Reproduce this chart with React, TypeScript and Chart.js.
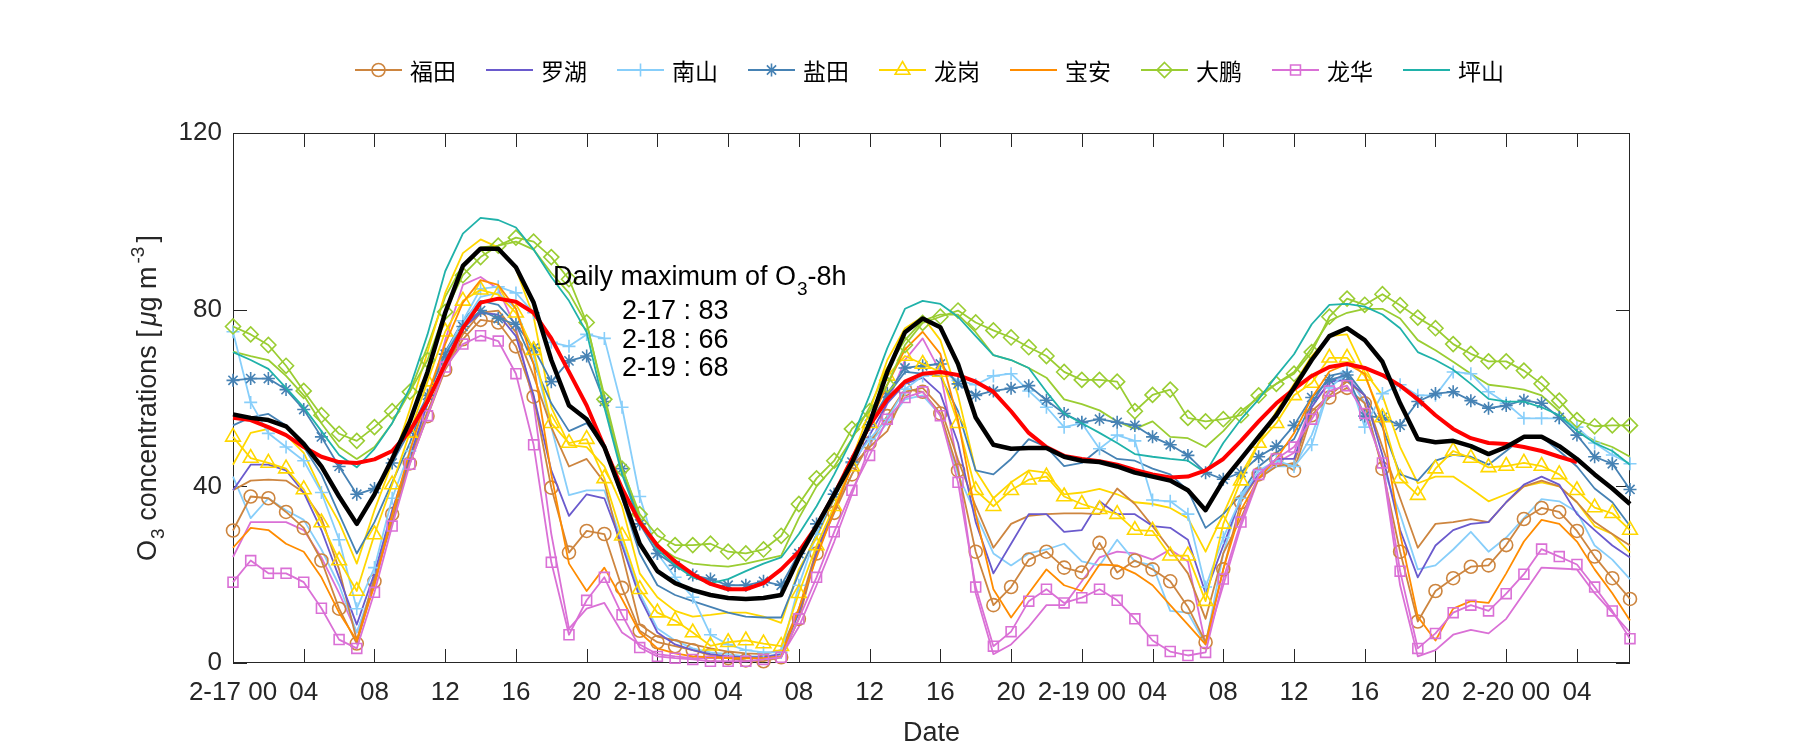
import React, { useEffect, useRef } from "react";
import { Chart, registerables } from "chart.js";

Chart.register(...registerables);

// ---------------- data ----------------
const hours: number[] = Array.from({ length: 80 }, (_, i) => i);
const tickHours = [0, 4, 8, 12, 16, 20, 24, 28, 32, 36, 40, 44, 48, 52, 56, 60, 64, 68, 72, 76];
const tickLabels = ["2-17 00", "04", "08", "12", "16", "20", "2-18 00", "04", "08", "12", "16", "20", "2-19 00", "04", "08", "12", "16", "20", "2-20 00", "04"];
const yTicks = [0, 40, 80, 120];

const stationNames = ["福田", "罗湖", "南山", "盐田", "龙岗", "宝安", "大鹏", "龙华", "坪山"];
const stationColors = ["#CD853F", "#6A5ACD", "#87CEFA", "#4682B4", "#FFD700", "#FF8C00", "#9ACD32", "#DA70D6", "#20B2AA"];
const stationMarkers = ["circle", "none", "cross", "star", "triangle", "none", "rectRot", "rect", "none"];

const futian = [30, 37.7, 37.3, 34.2, 30.6, 23.2, 12.3, 4.4, 18.5, 33.7, 45.2, 55.9, 66.4, 73.3, 77.7, 77.1, 71.7, 60.3, 39.7, 25.0,
  29.9, 29.2, 17, 7.3, 4.7, 3.8, 2.9, 1.8, 1.1, 0.6, 0.4, 1.3, 10, 24.8, 34, 42.7, 49.8, 55.9, 62, 61.4,
  56.5, 43.6, 25.2, 13.1, 17.2, 23.4, 25.2, 21.6, 20.5, 27.2, 20.5, 23.2, 21.2, 18.5, 12.7, 4.7, 21.2, 36.4, 42.7, 46.1,
  43.6, 56.1, 60.1, 62.3, 58.8, 44, 25.2, 9.4, 16.3, 19.2, 21.8, 22.1, 26.7, 32.6, 35.1, 34.2, 29.9, 24.1, 19.2, 14.5];
const luohu = [39.1, 44.9, 44.9, 43.6, 38.6, 30.1, 19.4, 8.7, 20.3, 34.6, 46.7, 58.8, 68.6, 75.8, 79.3, 78.9, 74, 60.6, 43.6, 33.3,
  38.2, 37.3, 26.6, 14.9, 6.9, 4.2, 2.9, 2, 1.5, 1.3, 1.3, 2, 11.4, 24.8, 35.5, 44.5, 51.6, 58.8, 63.2, 64.6,
  61, 49.8, 31.9, 20.3, 27, 33.7, 33.7, 29.7, 30.1, 36.6, 33.7, 33.7, 31, 30.6, 27.9, 15.8, 26.6, 37.3, 42.7, 46.2,
  46.2, 57.9, 63.7, 64.1, 60.6, 47.1, 30.1, 19.4, 26.6, 30.1, 31.5, 31.9, 36.4, 40.4, 42.2, 40.4, 33.7, 30.1, 26.6, 23.9];
const nanshan = [75, 59, 52, 48.9, 45.8, 38.6, 27.9, 12.3, 21.6, 37.3, 48, 60.6, 69.9, 77.5, 84.7, 85.2, 83.8, 79.3, 72.6, 71.7,
  74.4, 73.5, 57.9, 37.7, 24.8, 19.4, 14.9, 6.4, 4.2, 2.9, 2.4, 2.4, 17.6, 29.2, 38.2, 45.3, 50.7, 55.2, 62, 65,
  66, 64, 63, 65, 65.5, 61.6, 57.9, 53.4, 54.3, 48.5, 51.6, 50.3, 36.9, 36.6, 33.7, 17.2, 28.4, 37.3, 43.6, 45.8,
  44.5, 49.4, 62.3, 65.9, 53.4, 61, 63, 60.6, 60.6, 65.9, 65.5, 61.4, 58.8, 55.4, 55.4, 55.4, 53.4, 49.8, 47.1, 45.1];
const yantian = [64, 64.4, 64.4, 61.9, 57.4, 51.2, 44.5, 38.2, 39.5, 45.3, 52.5, 60.6, 69.9, 76.2, 79.8, 78, 76.7, 71.3, 63.7, 68.4,
  69.5, 59.2, 44, 31.5, 24.8, 22.1, 19.9, 19, 17.6, 17.6, 18.5, 17.6, 24.8, 31.5, 38.2, 45.5, 54, 61, 66.8, 67.3,
  67.7, 63.2, 60.6, 61.6, 62.2, 62.8, 59.5, 56.5, 54.5, 55.2, 54.5, 53.8, 51.2, 49.4, 47, 43.1, 41.6, 43.1, 46.7, 49.1,
  53.8, 60.1, 64.1, 65.2, 55.9, 55.6, 53.8, 59.2, 61, 61.4, 59.4, 57.7, 58.3, 59.5, 58.8, 55.6, 51.6, 46.7, 45.1, 39.3];
const longgang = [51.2, 46.4, 45.3, 44, 39.3, 31.8, 23.2, 16.3, 29.1, 40.4, 52.1, 63.7, 75, 82, 84.5, 83.4, 79.3, 70.8, 54.3, 49.8,
  50.7, 41.8, 28.8, 16.7, 11.4, 9.6, 6.9, 3.9, 4.7, 5.1, 4.4, 3.8, 15.8, 26.6, 35.5, 44.5, 54.3, 65, 69.5, 67.7,
  65.9, 54.3, 39.1, 35.5, 39.1, 41.5, 42.2, 37.7, 36, 34.8, 33.7, 30.1, 29.9, 24.3, 24.3, 14, 31.5, 41.3, 49.8, 54.3,
  60.6, 63.4, 69.1, 69.1, 65, 55.6, 41.8, 38, 44, 48, 46.4, 44.3, 44.6, 45.3, 44.6, 42.7, 39.1, 35.2, 33.9, 30.1];
const baoan = [26.1, 30.6, 30.1, 27, 25.2, 19.4, 11.4, 5.1, 17.6, 33.7, 48, 60.6, 72.2, 81.6, 86.7, 85.6, 80.2, 67.7, 42.7, 22.5,
  16.3, 21.6, 14.5, 6.9, 3.3, 2.2, 1.5, 1.3, 1.1, 1.1, 1.1, 1.5, 12.3, 23.9, 34.6, 44.5, 54.3, 63, 71, 75,
  70, 55, 33.7, 16.7, 10.3, 15.8, 21.2, 17.6, 16.3, 22.3, 22.1, 20.3, 17.6, 13.1, 8.7, 4.2, 21.2, 34.6, 41.8, 46.2,
  52, 60, 66, 67.7, 65.5, 54.3, 29.2, 10.5, 5.1, 12.3, 14, 13.6, 20.3, 27.5, 32.4, 31.5, 27.5, 21.2, 15.8, 9.6];
const dapeng = [76.2, 74.4, 72, 67.3, 61.6, 56.1, 51.9, 50.3, 53.4, 57, 61.4, 68.6, 79.5, 87.8, 91.9, 94.5, 96.3, 95.4, 91.9, 86.9,
  77.1, 59.7, 44, 33.7, 28.8, 26.7, 26.7, 27, 25.2, 24.8, 25.7, 28.8, 36, 41.8, 45.8, 53, 57, 63, 72, 77,
  78.4, 79.8, 77.1, 75.3, 73.7, 71.5, 69.5, 65.9, 64.1, 64.1, 63.7, 57, 60.7, 61.9, 55.5, 54.7, 55.2, 56.1, 60.6, 63.2,
  65.5, 70.4, 78.4, 82.5, 81.1, 83.5, 81, 78.2, 75.8, 72.2, 70, 68.3, 68.3, 66.2, 63.2, 59.4, 55, 53.6, 53.8, 53.8];
const longhua = [18.3, 23.2, 20.3, 20.3, 18.3, 12.4, 5.3, 3.3, 16, 31, 45, 56, 67, 72.2, 74.1, 72.9, 65.5, 49.4, 22.8, 6.4,
  14.2, 19.4, 10.9, 3.5, 1.5, 1.1, 0.8, 0.4, 0.4, 0.4, 0.8, 1.3, 10, 19.4, 29.7, 39.1, 47, 55.2, 60.1, 61.4,
  56, 40.9, 17.2, 3.8, 7.1, 14, 16.7, 13.6, 14.8, 16.7, 14.2, 10, 5.1, 2.6, 1.7, 2.4, 19, 31.9, 42.7, 46.2,
  48.9, 55.2, 61.6, 62.8, 56.5, 45.3, 20.8, 3.3, 6.7, 11.4, 13.1, 11.8, 15.7, 20.1, 25.8, 24.1, 22.3, 17.2, 11.8, 5.5];
const pingshan = [70.4, 68.6, 66.6, 62.3, 57.9, 52.5, 47.1, 44.3, 48.5, 54.3, 62.3, 74.4, 88.7, 97.2, 100.8, 100.3, 98.6, 93.6, 87.4, 82,
  74.9, 57.9, 42.7, 31.9, 25.7, 22.1, 19.4, 18.1, 19, 20.8, 22.5, 23.9, 29.2, 35.5, 42.7, 50.7, 60.6, 71.3, 80.2, 82,
  81.3, 78.4, 74, 69.7, 68.6, 66.8, 61.4, 56.5, 54.3, 52.1, 49.8, 47.3, 46.7, 46.2, 45.8, 43.1, 49.8, 55.2, 59.7, 65,
  69.9, 76.7, 81.1, 81.3, 80.7, 78.9, 75.8, 70.4, 68.6, 66.4, 63.2, 59.8, 59.2, 59.2, 57.9, 56.1, 52.5, 49.8, 48, 44.9];

// second set of lines (no markers, not in legend)
const futianB = [39.1, 41.3, 41.5, 41.3, 38.6, 32.8, 21.2, 5.1, 19.4, 31.9, 46.2, 57, 66.8, 74.4, 79.3, 79.8, 74.9, 65, 53.4, 44.5,
  46.2, 40.9, 24.8, 8.7, 6, 5.1, 4.2, 3.3, 2.6, 2.2, 2, 2.9, 12.3, 25.7, 34.6, 44.5, 48.9, 52.5, 61.4, 62.3,
  57.9, 46, 35.5, 26.1, 31.5, 33.3, 33.7, 33.9, 33.9, 33.7, 39.5, 36, 31, 25.7, 20.3, 10, 24.8, 32.8, 41.8, 44.5,
  45.3, 57, 60.6, 63.7, 60.6, 48.9, 37.3, 26.1, 31.5, 31.9, 32.6, 31.9, 36.4, 40, 41.3, 40, 36.4, 31.9, 29.2, 26.6];
const nanshanB = [42.2, 32.8, 37.3, 34.6, 32.4, 25.7, 17.6, 6.9, 18.5, 33.7, 46.7, 58.8, 67.7, 76.7, 82.9, 83.8, 80.2, 69.5, 53.4, 38,
  39.1, 39.1, 27.5, 15.8, 7.8, 5.1, 3.3, 2.4, 2, 1.5, 1.5, 2, 11.4, 24.8, 34.6, 42.7, 49.8, 54.3, 59.7, 60.6,
  56.1, 42.7, 33.7, 24.8, 22.1, 24.8, 25.7, 27, 23, 22.1, 27.9, 23, 22.1, 11.8, 11.4, 4.2, 24.8, 38.2, 42.7, 44.5,
  44.5, 51.6, 62.3, 65.5, 58.8, 44.5, 33.7, 21.2, 22.1, 25.7, 29.7, 25.2, 28.4, 32.8, 37.1, 36.6, 34.2, 26.6, 23.4, 19];
const yantianB = [53.8, 55.6, 56.4, 53.8, 48.9, 42.7, 33.7, 24.8, 31.9, 40.9, 49.8, 60.6, 70.4, 77.5, 82, 81.1, 76.7, 67.7, 58.8, 52.5,
  54.3, 48.9, 37.3, 24.8, 17.6, 15.4, 14, 12.7, 11.4, 10.5, 10.3, 10.3, 20.3, 29.2, 37.3, 45.3, 53.4, 60.6, 65.9, 65.5,
  65, 57, 43.6, 42.7, 46.2, 50.7, 48.9, 44.6, 45.3, 48.5, 46.2, 45.8, 44, 42.7, 39.1, 30.6, 33.7, 38.2, 44.5, 47.6,
  50.7, 58.8, 65, 65.9, 60.6, 53.4, 42.7, 41.3, 45.8, 47.1, 46.7, 44.9, 48, 51.2, 51.2, 48, 44.5, 39.5, 36.4, 31];
const longgangB = [44.9, 52.1, 53, 51.6, 47.6, 39.1, 31.9, 22.5, 34.6, 45.3, 57.4, 70.4, 83.8, 92.8, 95.9, 94.1, 89.2, 78.4, 57.9, 49.4,
  48.9, 44.5, 35.5, 20.3, 14.9, 11.8, 10.5, 10.9, 11.4, 11.4, 10.5, 9.1, 21.2, 28.4, 37.3, 46.2, 57, 68.6, 75.8, 78.4,
  73.1, 60.6, 43.6, 37.3, 40.9, 43.6, 43.1, 38.2, 38.6, 39.4, 38.2, 36.4, 36, 35.1, 32.8, 25.2, 33.7, 42.7, 49.8, 57,
  63.2, 69.5, 74, 74.4, 65.9, 60.6, 48.9, 40.7, 42.2, 42.2, 39.5, 36.6, 38.2, 40, 40.9, 40, 36.4, 31, 29.2, 25];
const dapengB = [70.5, 69.5, 68.6, 65, 60.6, 54.3, 48.9, 46.2, 48.9, 54.3, 61.4, 71.7, 82.9, 90.1, 94.1, 94.5, 95.4, 93.6, 88.3, 83.8,
  76.7, 60.6, 44.5, 32.8, 26.6, 23.9, 22.5, 22.1, 21.8, 22.5, 23.4, 24.3, 32.8, 40, 44.5, 50.7, 57.9, 66.8, 73.1, 77.5,
  78.9, 78.9, 74.9, 69.7, 68.6, 66.8, 64.6, 59.7, 58.6, 57.2, 54.7, 53, 54.7, 51.2, 50.9, 48.9, 52.5, 57, 60.1, 63.2,
  65.9, 71.3, 77.5, 79.3, 80.2, 80.2, 78, 73.1, 70.8, 68.2, 65.5, 63, 62.5, 61.9, 60.6, 57, 52.5, 50.3, 48.9, 46.7];
const longhuaB = [24, 31.9, 31.9, 31.9, 30.1, 23.9, 15.8, 6.9, 17.6, 32.8, 46.2, 58.8, 73.1, 85.6, 87.4, 84.7, 75.8, 58.8, 29.2, 7.8,
  12.3, 13.6, 6.9, 4.2, 2, 1.5, 1.1, 1.1, 1.1, 1.1, 1.1, 1.5, 8.2, 17.6, 27.5, 38.2, 48.9, 58.8, 68.6, 73.5,
  65.9, 44.5, 15.8, 2, 4.2, 8.2, 13.1, 13.1, 18.5, 23.9, 25.2, 24.8, 23.4, 25.7, 23, 4.2, 17.6, 31, 41.8, 45.3,
  47.6, 58.8, 63.2, 65.9, 58.8, 44.5, 17.6, 1.5, 2.9, 6.4, 7.5, 6.7, 10, 15.8, 21.6, 21.4, 21.2, 15.8, 11.4, 6.9];

const cityMean = [56.3, 55.5, 55, 53.6, 49.6, 44.5, 37.7, 31.5, 38.2, 46.2, 54.7, 65.9, 79.3, 89.9, 93.8, 93.8, 89.6, 81.6, 68.6, 58.3,
  55.2, 48.9, 38.2, 27, 20.8, 18.1, 16.5, 15.4, 14.7, 14.5, 14.7, 15.4, 23.9, 31, 38.2, 45.3, 54.3, 65.9, 74.9, 78,
  76, 67.7, 55.6, 49.4, 48.5, 48.7, 48.7, 46.7, 45.8, 45.5, 44.5, 43.1, 42.2, 41.3, 39.1, 34.6, 41.3, 46.2, 51.2, 56.1,
  62.3, 68.6, 74, 75.8, 73.1, 68.2, 58.8, 50.7, 50, 50.3, 49.1, 47.3, 48.9, 51.2, 51.2, 49.1, 46.2, 42.7, 39.5, 36];
const o3_8h: (number | null)[] = [55.5, 55, 53.4, 51.6, 48.9, 46.7, 45.5, 45.3, 46.1, 48, 52.5, 59.2, 67.7, 75.8, 81.6, 82.5, 81.8, 79.3, 73.5, 65.9,
  58.3, 48.9, 39.5, 31.9, 26.6, 23, 20.1, 17.9, 16.7, 16.7, 18.1, 21.2, 25.2, 31, 38.2, 46.2, 53.8, 59.7, 63.7, 65.5,
  65.9, 65.2, 63.7, 61.4, 57, 52.1, 48.9, 46.9, 46.2, 45.7, 44.9, 43.7, 42.7, 42, 42.2, 43.6, 46.2, 50.3, 54.7, 58.8,
  62, 65, 67, 67.7, 66.8, 65.2, 62.8, 59.7, 56.1, 53, 50.9, 49.8, 49.6, 48.9, 48, 46.7, 45.5, null, null, null];

const annotationTitle = ["Daily maximum of O", "3", "-8h"];
const dailyMaxLines = ["2-17 : 83", "2-18 : 66", "2-19 : 68"];

// ---------------- styling ----------------
const FONT = '"Liberation Sans", Arial, sans-serif';
const CJK = '"Noto Sans CJK SC", "Noto Sans", sans-serif';
const AXIS_COLOR = "#262626";
const markerRadius: Record<string, number> = { circle: 6.5, cross: 6.5, star: 6.5, triangle: 8.5, rectRot: 7.5, rect: 7 };

const primarySeries = [futian, luohu, nanshan, yantian, longgang, baoan, dapeng, longhua, pingshan];
const secondarySeries: { data: number[]; idx: number }[] = [
  { data: futianB, idx: 0 },
  { data: nanshanB, idx: 2 },
  { data: yantianB, idx: 3 },
  { data: longgangB, idx: 4 },
  { data: dapengB, idx: 6 },
  { data: longhuaB, idx: 7 },
];

function toXY(arr: (number | null)[]) {
  return hours.map((h, i) => ({ x: h, y: arr[i] }));
}

function drawMarker(ctx: CanvasRenderingContext2D, style: string, x: number, y: number, r: number) {
  ctx.beginPath();
  if (style === "circle") {
    ctx.arc(x, y, r, 0, Math.PI * 2);
  } else if (style === "cross") {
    ctx.moveTo(x - r, y); ctx.lineTo(x + r, y);
    ctx.moveTo(x, y - r); ctx.lineTo(x, y + r);
  } else if (style === "star") {
    const d = r * Math.SQRT1_2;
    ctx.moveTo(x - r, y); ctx.lineTo(x + r, y);
    ctx.moveTo(x, y - r); ctx.lineTo(x, y + r);
    ctx.moveTo(x - d, y - d); ctx.lineTo(x + d, y + d);
    ctx.moveTo(x - d, y + d); ctx.lineTo(x + d, y - d);
  } else if (style === "triangle") {
    const s = Math.sin(Math.PI / 3) * r;
    ctx.moveTo(x, y - r); ctx.lineTo(x + s, y + r / 2); ctx.lineTo(x - s, y + r / 2); ctx.closePath();
  } else if (style === "rectRot") {
    ctx.moveTo(x, y - r); ctx.lineTo(x + r, y); ctx.lineTo(x, y + r); ctx.lineTo(x - r, y); ctx.closePath();
  } else if (style === "rect") {
    const s = r * Math.SQRT1_2;
    ctx.rect(x - s, y - s, 2 * s, 2 * s);
  }
  ctx.stroke();
}

const framePlugin = {
  id: "matlabFrame",
  beforeDatasetsDraw(chart: any) {
    const { ctx, chartArea: a, scales } = chart;
    ctx.save();
    ctx.strokeStyle = AXIS_COLOR;
    ctx.lineWidth = 1;
    ctx.strokeRect(Math.round(a.left) + 0.5, Math.round(a.top) + 0.5, Math.round(a.right - a.left) - 1, Math.round(a.bottom - a.top) - 1);
    const tl = 14;
    ctx.beginPath();
    tickHours.forEach((h) => {
      const px = Math.round(scales.x.getPixelForValue(h)) + 0.5;
      ctx.moveTo(px, a.bottom); ctx.lineTo(px, a.bottom - tl);
      ctx.moveTo(px, a.top); ctx.lineTo(px, a.top + tl);
    });
    yTicks.forEach((v) => {
      const py = Math.round(scales.y.getPixelForValue(v)) + 0.5;
      ctx.moveTo(a.left, py); ctx.lineTo(a.left + tl, py);
      ctx.moveTo(a.right, py); ctx.lineTo(a.right - tl, py);
    });
    ctx.stroke();
    ctx.restore();
  },
  afterDraw(chart: any) {
    const { ctx, chartArea: a } = chart;
    ctx.save();
    // legend
    const ly = 70;
    let lx = 355;
    ctx.font = `23px ${CJK}`;
    ctx.textBaseline = "middle";
    ctx.textAlign = "left";
    stationNames.forEach((name, i) => {
      ctx.strokeStyle = stationColors[i];
      ctx.lineWidth = 1.8;
      ctx.beginPath(); ctx.moveTo(lx, ly); ctx.lineTo(lx + 47, ly); ctx.stroke();
      if (stationMarkers[i] !== "none") {
        ctx.lineWidth = 1.6;
        drawMarker(ctx, stationMarkers[i], lx + 23.5, ly, markerRadius[stationMarkers[i]]);
      }
      ctx.fillStyle = "#000";
      ctx.fillText(name, lx + 55, ly + 1);
      lx += 55 + ctx.measureText(name).width + 30;
    });

    // annotation
    ctx.fillStyle = "#000";
    ctx.textBaseline = "alphabetic";
    ctx.font = `27px ${FONT}`;
    let ax = 553;
    const ay = 285;
    ctx.fillText(annotationTitle[0], ax, ay);
    ax += ctx.measureText(annotationTitle[0]).width;
    ctx.font = `19px ${FONT}`;
    ctx.fillText(annotationTitle[1], ax + 1, ay + 10);
    ax += ctx.measureText(annotationTitle[1]).width + 1;
    ctx.font = `27px ${FONT}`;
    ctx.fillText(annotationTitle[2], ax, ay);
    ctx.font = `27px ${FONT}`;
    dailyMaxLines.forEach((t, i) => ctx.fillText(t, 622, 319 + i * 28.5));

    // x title
    ctx.fillStyle = AXIS_COLOR;
    ctx.font = `27px ${FONT}`;
    ctx.textAlign = "center";
    ctx.fillText("Date", (a.left + a.right) / 2, 741);

    // y title with sub/superscripts
    ctx.textAlign = "left";
    ctx.translate(156, (a.top + a.bottom) / 2);
    ctx.rotate(-Math.PI / 2);
    const parts = [
      { t: "O", f: `27px ${FONT}`, dy: 0, gap: 0 },
      { t: "3", f: `19px ${FONT}`, dy: 8, gap: 1 },
      { t: " concentrations [", f: `27px ${FONT}`, dy: 0, gap: 0 },
      { t: "μ", f: `italic 27px ${FONT}`, dy: 0, gap: 4 },
      { t: "g m", f: `27px ${FONT}`, dy: 0, gap: 0 },
      { t: "-3", f: `19px ${FONT}`, dy: -12, gap: 3 },
      { t: "]", f: `27px ${FONT}`, dy: 0, gap: 4 },
    ];
    let total = 0;
    parts.forEach((p) => { ctx.font = p.f; total += ctx.measureText(p.t).width + p.gap; });
    let px = -total / 2;
    parts.forEach((p) => {
      ctx.font = p.f;
      px += p.gap;
      ctx.fillText(p.t, px, p.dy);
      px += ctx.measureText(p.t).width;
    });
    ctx.restore();
  },
};

export default function App() {
  const ref = useRef<HTMLCanvasElement | null>(null);

  useEffect(() => {
    if (!ref.current) return;
    const datasets: any[] = [];
    secondarySeries.forEach((s, k) => {
      datasets.push({
        label: stationNames[s.idx] + "_b",
        data: toXY(s.data),
        borderColor: stationColors[s.idx],
        borderWidth: 1.8,
        pointRadius: 0,
        order: 30 + k,
        clip: false,
      });
    });
    primarySeries.forEach((arr, i) => {
      const m = stationMarkers[i];
      datasets.push({
        label: stationNames[i],
        data: toXY(arr),
        borderColor: stationColors[i],
        borderWidth: 1.8,
        pointStyle: m === "none" ? "circle" : m,
        pointRadius: m === "none" ? 0 : markerRadius[m],
        pointBorderColor: stationColors[i],
        pointBackgroundColor: "rgba(0,0,0,0)",
        pointBorderWidth: 1.6,
        order: 20 - i,
        clip: false,
      });
    });
    datasets.push({
      label: "O3-8h",
      data: toXY(o3_8h),
      borderColor: "#FF0000",
      borderWidth: 4,
      pointRadius: 0,
      order: 1,
      clip: false,
      spanGaps: false,
    });
    datasets.push({
      label: "mean",
      data: toXY(cityMean),
      borderColor: "#000000",
      borderWidth: 4.5,
      pointRadius: 0,
      order: 0,
      clip: false,
    });

    const chart = new Chart(ref.current, {
      type: "line",
      data: { datasets },
      options: {
        animation: false,
        responsive: false,
        devicePixelRatio: 1,
        events: [],
        layout: { padding: { left: 0, top: 133, right: 170, bottom: 0 } },
        elements: { line: { tension: 0, borderJoinStyle: "round", borderCapStyle: "butt" } },
        plugins: { legend: { display: false }, tooltip: { enabled: false }, title: { display: false } },
        scales: {
          x: {
            type: "linear",
            min: 0,
            max: 79,
            grid: { display: false, drawTicks: false },
            border: { display: false },
            afterBuildTicks: (scale: any) => { scale.ticks = tickHours.map((v) => ({ value: v })); },
            afterFit: (scale: any) => { scale.height = 87; },
            ticks: {
              autoSkip: false,
              maxRotation: 0,
              minRotation: 0,
              padding: 14,
              color: AXIS_COLOR,
              font: { family: FONT, size: 26 },
              callback: (v: any) => { const i = tickHours.indexOf(Number(v)); return i >= 0 ? tickLabels[i] : ""; },
            },
          },
          y: {
            type: "linear",
            min: 0,
            max: 120,
            grid: { display: false, drawTicks: false },
            border: { display: false },
            afterBuildTicks: (scale: any) => { scale.ticks = yTicks.map((v) => ({ value: v })); },
            afterFit: (scale: any) => { scale.width = 233; },
            ticks: {
              padding: 11,
              color: AXIS_COLOR,
              font: { family: FONT, size: 26 },
              callback: (v: any) => String(v),
            },
          },
        },
      },
      plugins: [framePlugin],
    });
    return () => chart.destroy();
  }, []);

  return (
    <div style={{ position: "absolute", left: 0, top: 0, width: 1800, height: 750, background: "#fff" }}>
      <canvas ref={ref} width={1800} height={750} style={{ width: 1800, height: 750, display: "block" }} />
    </div>
  );
}
